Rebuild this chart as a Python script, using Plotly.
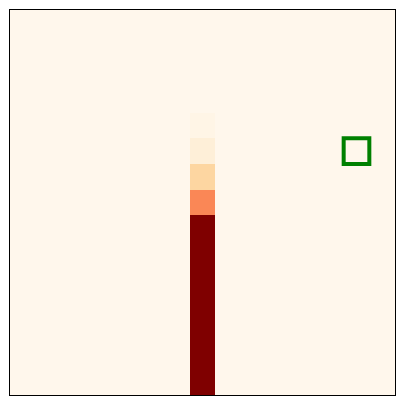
import plotly.graph_objects as go

n_rows = 15
n_cols = 15
source_col = 7
# values of the lit column, from row 0 (top) to row 14 (bottom)
column_values = [0, 0, 0, 0, 0.02, 0.07, 0.24, 0.52, 1, 1, 1, 1, 1, 1, 1]
target_row = 5
target_col = 13

z = [[0.0] * n_cols for _ in range(n_rows)]
for r, v in enumerate(column_values):
    z[r][source_col] = v

orrd = [[0.0, "#fff7ec"], [0.125, "#fee8c8"], [0.25, "#fdd49e"], [0.375, "#fdbb84"],
        [0.5, "#fc8d59"], [0.625, "#ef6548"], [0.75, "#d7301f"], [0.875, "#b30000"],
        [1.0, "#7f0000"]]

fig = go.Figure(go.Heatmap(z=z, x=list(range(n_cols)), y=list(range(n_rows)),
                           colorscale=orrd, zmin=0, zmax=1, showscale=False,
                           hoverinfo="skip"))

fig.add_shape(type="rect", xref="x", yref="y",
              x0=target_col - 0.5, x1=target_col + 0.5,
              y0=target_row - 0.5, y1=target_row + 0.5,
              line=dict(color="#008000", width=4))

fig.update_xaxes(range=[-0.5, n_cols - 0.5], showticklabels=False, ticks="",
                 showgrid=False, zeroline=False, showline=True, linecolor="black",
                 linewidth=1, mirror=True)
fig.update_yaxes(range=[n_rows - 0.5, -0.5], showticklabels=False, ticks="",
                 showgrid=False, zeroline=False, showline=True, linecolor="black",
                 linewidth=1, mirror=True)

fig.update_layout(width=405, height=405, margin=dict(l=10, r=10, t=10, b=10),
                  paper_bgcolor="white", plot_bgcolor="white")

fig.write_html("out.html")
